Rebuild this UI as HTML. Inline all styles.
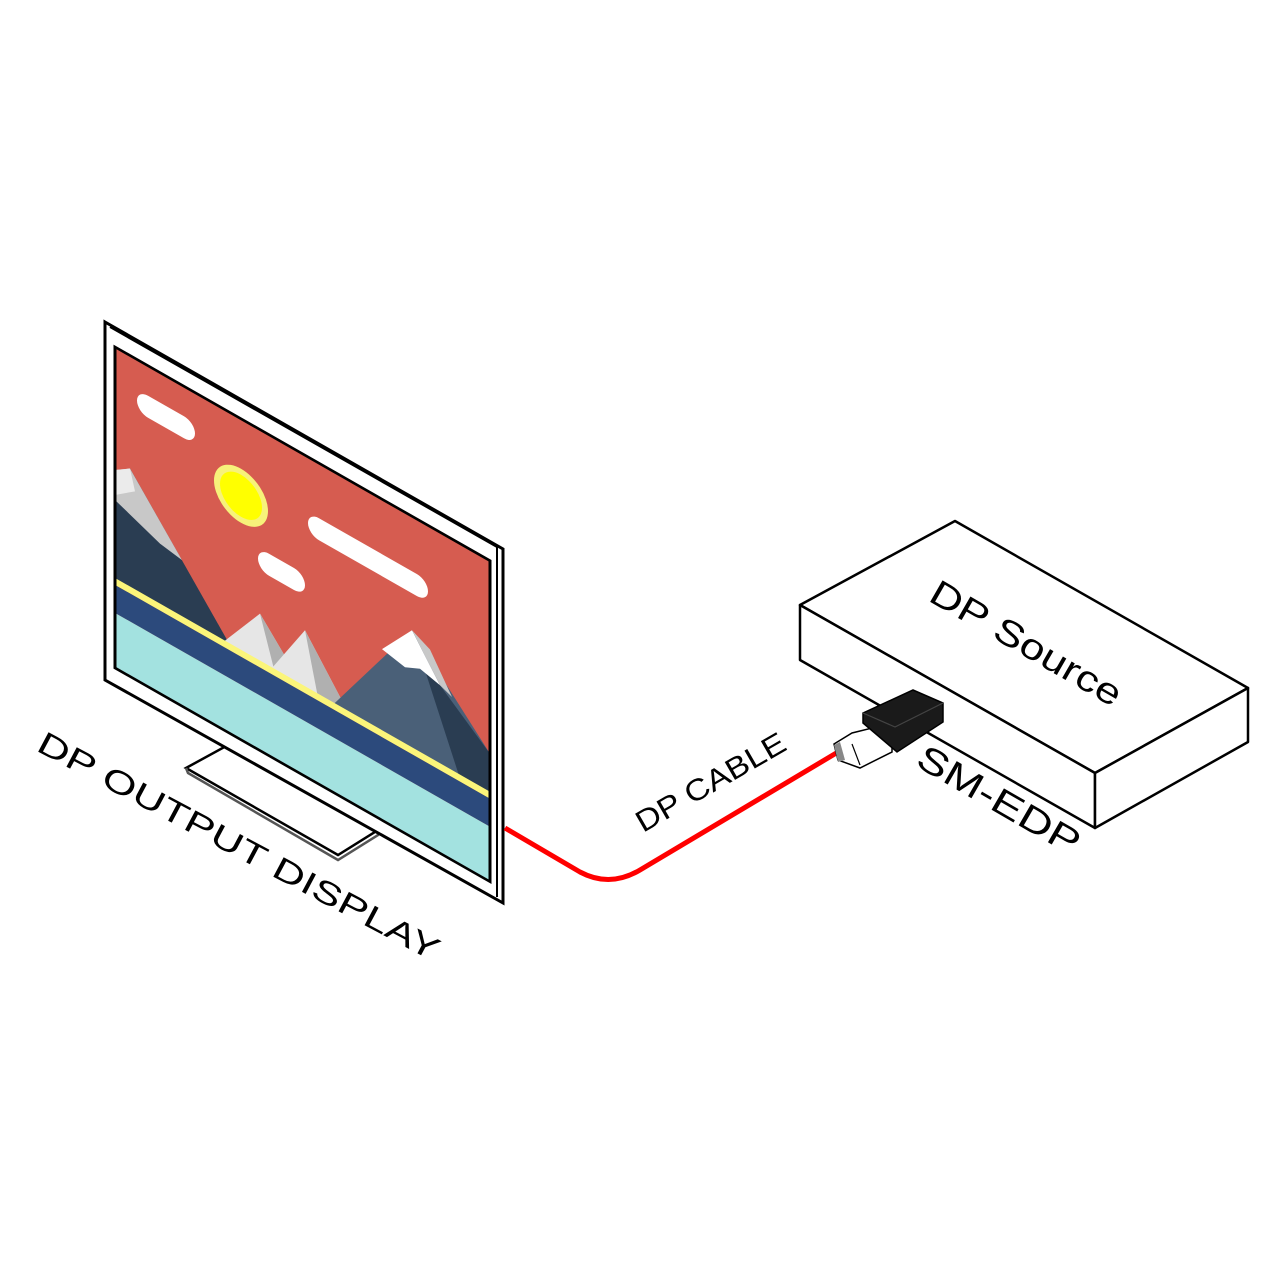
<!DOCTYPE html>
<html><head><style>html,body{margin:0;padding:0;background:#fff}svg{display:block}</style></head><body>
<svg width="1280" height="1280" viewBox="0 0 1280 1280" xmlns="http://www.w3.org/2000/svg" font-family="Liberation Sans, sans-serif">
<!-- stand -->
<polygon points="186,768 228,745 378,830 338,855" fill="#fff" stroke="#000" stroke-width="2.5"/>
<polyline points="186,768 188,773 338,860 378,835 378,830" fill="none" stroke="#555" stroke-width="2.5"/>
<!-- monitor frame -->
<polygon points="105,322 503,549 503,903 105,680" fill="#fff" stroke="#000" stroke-width="3"/>
<polyline points="110,327 497,547 497,897" fill="none" stroke="#000" stroke-width="2"/>
<!-- screen -->
<defs><clipPath id="sc"><rect x="115" y="347" width="375" height="321"/></clipPath></defs>
<g transform="matrix(1,0.57,0,1,0,-65.6)">
 <g clip-path="url(#sc)">
  <rect x="115" y="347" width="375" height="321" fill="#d65c50"/>
  <rect x="137" y="377" width="58" height="22" rx="11" fill="#fff"/>
  <rect x="308" y="402" width="120" height="22" rx="11" fill="#fff"/>
  <rect x="258" y="466" width="47" height="22" rx="11" fill="#fff"/>
  <circle cx="241" cy="424" r="27" fill="#f7f27a"/>
  <circle cx="241" cy="424" r="21" fill="#ffff00"/>
  <polygon points="115,480 130,460 232,582 115,582" fill="#2a3d52"/>
  <polygon points="115,470 130,460 182,522 160,518 115,500" fill="#c8c8c8"/>
  <polygon points="115,470 130,460 135,480 115,495" fill="#ebebeb"/>
  <polygon points="222,582 260,531 305,582" fill="#e6e6e6"/>
  <polygon points="260,531 275,582 305,582" fill="#b0b0b0"/>
  <polygon points="270,582 305,522 350,582" fill="#e6e6e6"/>
  <polygon points="305,522 318,582 350,582" fill="#b0b0b0"/>
  <polygon points="332,582 412,461 490,540 490,582" fill="#4a6078"/>
  <polygon points="412,461 440,500 490,540 490,582 460,582" fill="#2a3d52"/>
  <polygon points="382,497 412,461 440,500 420,495 405,502" fill="#fff"/>
  <polygon points="412,461 440,500 452,505 430,470" fill="#c8c8c8"/>
  <rect x="115" y="578" width="375" height="7" fill="#fbf57a"/>
  <rect x="115" y="585" width="375" height="28" fill="#2c4a7c"/>
  <rect x="115" y="613" width="375" height="60" fill="#a3e2e0"/>
 </g>
 <rect x="115" y="347" width="375" height="321" fill="none" stroke="#000" stroke-width="3"/>
</g>
<!-- cable -->
<path d="M505,828 L580,872 Q610,888 640,870 L838,752" fill="none" stroke="#ff0000" stroke-width="5"/>
<!-- box -->
<polygon points="800,605 955,521 1248,688 1095,773" fill="#fff" stroke="#000" stroke-width="2.5" stroke-linejoin="round"/>
<polygon points="800,605 1095,773 1095,828 800,660" fill="#fff" stroke="#000" stroke-width="2.5" stroke-linejoin="round"/>
<polygon points="1095,773 1248,688 1248,742 1095,828" fill="#fff" stroke="#000" stroke-width="2.5" stroke-linejoin="round"/>
<!-- connector -->
<polygon points="834,744 852,733 872,728 892,742 892,752 860,768 838,760" fill="#fff" stroke="#000" stroke-width="1.5"/>
<line x1="852" y1="744" x2="860" y2="765" stroke="#000" stroke-width="1.2"/>
<polygon points="834,745 840,742 845,760 838,762" fill="#888"/>
<polygon points="863,713 913,690 943,703 943,722 897,752 863,723" fill="#1a1a1a" stroke="#000" stroke-width="1.5"/>
<polyline points="863,713 895,727 943,703" fill="none" stroke="#444" stroke-width="1.2"/>
<!-- labels -->
<text transform="translate(35,750) rotate(28)" font-size="32" textLength="450" lengthAdjust="spacingAndGlyphs">DP OUTPUT DISPLAY</text>
<text transform="translate(643,833) rotate(-30)" font-size="30" textLength="168" lengthAdjust="spacingAndGlyphs">DP CABLE</text>
<text transform="translate(927,600) rotate(30)" font-size="36" textLength="215" lengthAdjust="spacingAndGlyphs">DP Source</text>
<text transform="translate(914,765) rotate(30)" font-size="36" textLength="182" lengthAdjust="spacingAndGlyphs">SM-EDP</text>
</svg>
</body></html>
